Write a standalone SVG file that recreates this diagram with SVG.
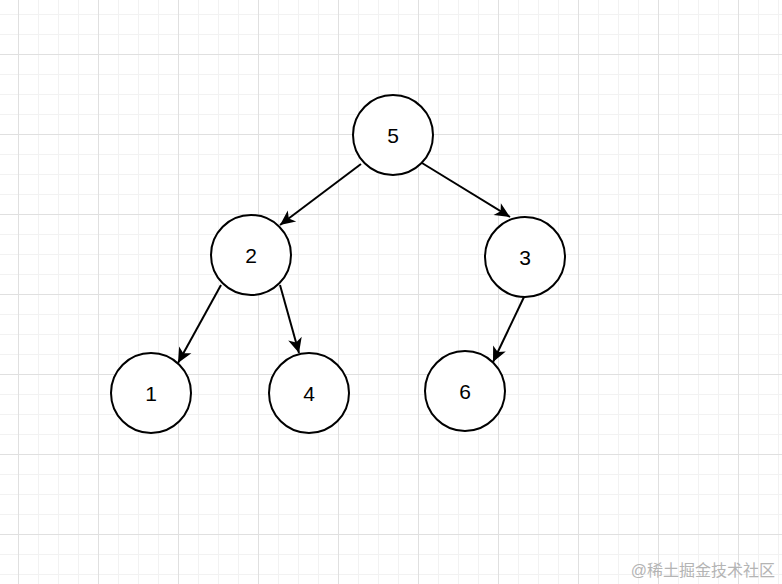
<svg xmlns="http://www.w3.org/2000/svg" width="782" height="584" viewBox="0 0 782 584">
<style>
.node circle{fill:#ffffff;stroke:#000000;stroke-width:2}
.node text{font-family:"Liberation Sans",Arial,sans-serif;font-size:21px;fill:#000000;text-anchor:middle}
.edge{stroke:#000000;stroke-width:2;fill:none;marker-end:url(#arrow)}
.wm{font-family:"Liberation Sans","Noto Sans CJK SC",sans-serif;font-size:16px;fill:#b4b4b4;text-anchor:end}
</style>
<defs>
<pattern id="minor" patternUnits="userSpaceOnUse" x="18" y="14" width="20" height="20">
<path d="M0.5 0V20M0 0.5H20" stroke="#f2f2f2" stroke-width="1" fill="none"/>
</pattern>
<pattern id="major" patternUnits="userSpaceOnUse" x="18" y="54" width="80" height="80">
<path d="M0.5 0V80M0 0.5H80" stroke="#e0e0e0" stroke-width="1" fill="none"/>
</pattern>
<marker id="arrow" markerUnits="userSpaceOnUse" viewBox="-17 -9 18 18" markerWidth="18" markerHeight="18" refX="0" refY="0" orient="auto">
<path d="M0,0 L-15,-7 L-11,0 L-15,7 Z" fill="#000000"/>
</marker>
</defs>
<rect width="782" height="584" fill="#ffffff"/>
<rect width="782" height="584" fill="url(#minor)"/>
<rect width="782" height="584" fill="url(#major)"/>
<g id="connectors">
<line class="edge" x1="361" y1="164" x2="280" y2="225"/>
<line class="edge" x1="422" y1="163" x2="510" y2="217"/>
<line class="edge" x1="221" y1="285" x2="178" y2="363"/>
<line class="edge" x1="280" y1="285" x2="299" y2="353"/>
<line class="edge" x1="524" y1="297" x2="493" y2="362"/>
</g>
<g id="node5" class="node"><circle cx="393" cy="135" r="40"/><text x="393" y="142.5">5</text></g>
<g id="node2" class="node"><circle cx="251" cy="255" r="40"/><text x="251" y="262.5">2</text></g>
<g id="node3" class="node"><circle cx="525" cy="257" r="40"/><text x="525" y="264.5">3</text></g>
<g id="node1" class="node"><circle cx="151" cy="393" r="40"/><text x="151" y="400.5">1</text></g>
<g id="node4" class="node"><circle cx="309" cy="393" r="40"/><text x="309" y="400.5">4</text></g>
<g id="node6" class="node"><circle cx="465" cy="391" r="40"/><text x="465" y="398.5">6</text></g>
<text class="wm" x="775" y="576">@稀土掘金技术社区</text>
</svg>
